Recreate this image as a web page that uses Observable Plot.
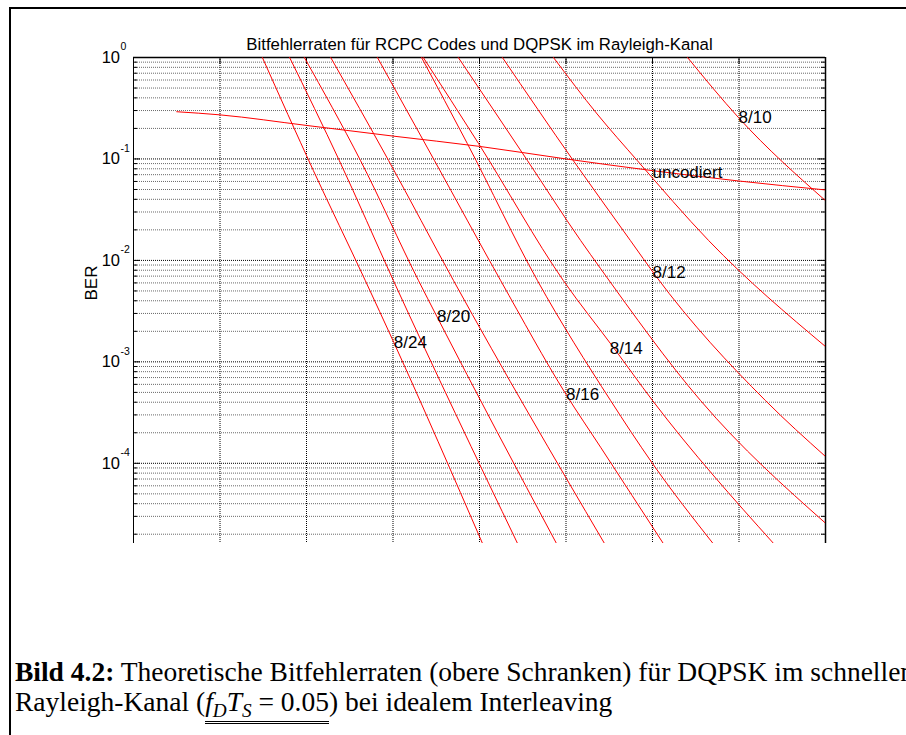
<!DOCTYPE html>
<html><head><meta charset="utf-8">
<script src="https://cdn.jsdelivr.net/npm/d3@7"></script>
<script src="https://cdn.jsdelivr.net/npm/@observablehq/plot@0.6"></script>
<style>
html,body{margin:0;padding:0;overflow:hidden;background:#fff;width:906px;height:735px}
#frame{position:absolute;left:9px;top:7px;width:1400px;height:1400px;border-left:2.6px solid #000;border-top:2.6px solid #000;z-index:2;pointer-events:none}
#chart{position:absolute;left:0;top:0}
#cap{position:absolute;left:15px;top:657px;font-family:"Liberation Serif","Times New Roman",serif;font-size:27.5px;line-height:30px;white-space:nowrap;color:#000}
#cap .u{display:inline-block;line-height:27px;border-bottom:3px double #000;padding-bottom:3px}
#cap .s{font-size:0.7em;position:relative;top:0.3em}
</style></head><body>
<div id="frame"></div>
<div id="chart"></div>
<div id="cap"><b>Bild 4.2:</b> Theoretische Bitfehlerraten (obere Schranken) für DQPSK im schnellen<br>Rayleigh-Kanal (<span class="u"><i>f</i><span class="s"><i>D</i></span><i>T</i><span class="s"><i>S</i></span> = 0.05</span>) bei idealem Interleaving</div>
<script>
// ---- axis structure ----
const xDomain = [0, 16];
const yDomain = [1.62e-5, 1];
const xGrid = [0, 2, 4, 6, 8, 10, 12, 14, 16];
const decades = [1, 0.1, 0.01, 0.001, 0.0001];
const decadeExp = ["0", "-1", "-2", "-3", "-4"];
const minorMult = [2, 3, 4, 5, 6, 7, 8, 9];
const title = "Bitfehlerraten für RCPC Codes und DQPSK im Rayleigh-Kanal";
const yLabel = "BER";

// ---- series (Eb/N0 in dB, BER) ----
const ebn0_uncoded = [1, 2, 4, 6, 8, 10, 12, 14, 16];
const ber_uncoded  = [0.292, 0.272, 0.214, 0.168, 0.133, 0.1, 0.0767, 0.0606, 0.0495];

const ebn0_8_24 = [2.98, 4.16, 5.36, 6.02, 8.07];
const ber_8_24  = [1, 0.0767, 0.00632, 0.00155, 1.62e-5];
const ebn0_8_22 = [3.61, 4.76, 6.01, 8.88];
const ber_8_22  = [1, 0.0962, 0.00632, 1.62e-5];
const ebn0_8_20 = [3.95, 5.25, 6.59, 7.02, 9.78];
const ber_8_20  = [1, 0.0962, 0.00632, 0.00277, 1.62e-5];
const ebn0_8_18 = [4.56, 5.90, 7.40, 10.89];
const ber_8_18  = [1, 0.0962, 0.00632, 1.62e-5];
const ebn0_8_16 = [5.64, 6.96, 8.49, 10.0, 10.80, 12.25];
const ber_8_16  = [1, 0.0962, 0.00632, 0.000478, 0.000144, 1.62e-5];
const ebn0_8_15 = [6.66, 7.72, 9.34, 11.03, 11.99, 13.4];
const ber_8_15  = [1, 0.1415, 0.00632, 0.000416, 0.000101, 1.62e-5];
const ebn0_8_14 = [6.70, 7.98, 9.94, 11.10, 12.0, 14.80];
const ber_8_14  = [1, 0.1415, 0.00632, 0.00138, 0.000416, 1.62e-5];
const ebn0_8_13 = [7.51, 9.11, 10.34, 10.80, 13.11, 16.0];
const ber_8_13  = [1, 0.0962, 0.01567, 0.0083, 0.000416, 2.57e-5];
const ebn0_8_12 = [8.53, 10.17, 11.49, 12.07, 14.61, 16.0];
const ber_8_12  = [1, 0.0962, 0.01567, 0.00708, 0.000416, 0.0001167];
const ebn0_8_11 = [9.71, 10.72, 11.65, 13.30, 16.0];
const ber_8_11  = [1, 0.2775, 0.0962, 0.01567, 0.001415];
const ebn0_8_10 = [12.81, 13.99, 16.0];
const ber_8_10  = [1, 0.2553, 0.0388];

const coded = [
  ["8/24", ebn0_8_24, ber_8_24], ["8/22", ebn0_8_22, ber_8_22],
  ["8/20", ebn0_8_20, ber_8_20], ["8/18", ebn0_8_18, ber_8_18],
  ["8/16", ebn0_8_16, ber_8_16], ["8/15", ebn0_8_15, ber_8_15],
  ["8/14", ebn0_8_14, ber_8_14], ["8/13", ebn0_8_13, ber_8_13],
  ["8/12", ebn0_8_12, ber_8_12], ["8/11", ebn0_8_11, ber_8_11],
  ["8/10", ebn0_8_10, ber_8_10]
];

// ---- curve labels ----
const labelText = ["8/10", "uncodiert", "8/12", "8/14", "8/16", "8/20", "8/24"];
const labelX    = [13.99, 12.0, 12.0, 11.01, 10.0, 7.02, 6.02];
const labelY    = [0.255, 0.074, 0.0076, 0.00136, 0.000478, 0.00277, 0.00155];

// ---- build tables ----
const rows = [];
for (const [rate, xs, ys] of coded) xs.forEach((x, i) => rows.push({rate, x, y: ys[i]}));
const unc = ebn0_uncoded.map((x, i) => ({x, y: ber_uncoded[i]}));
const labels = labelText.map((t, i) => ({t, x: labelX[i], y: labelY[i]}));
const minor = [];
for (const d of decades.concat([1e-5])) for (const k of minorMult) { const v = k * d; if (v >= yDomain[0] && v < 1) minor.push(v); }
const decTicks = decades.map((v, i) => ({v, e: decadeExp[i]}));

const W = 906, H = 543, mL = 133, mR = 81, mT = 57, mB = 0;
const pw = W - mL - mR, ph = H - mT - mB;
const sans = "Liberation Sans, Arial, Helvetica, sans-serif";

const chart = Plot.plot({
  width: W, height: H,
  marginLeft: mL, marginRight: mR, marginTop: mT, marginBottom: mB,
  style: {background: "none", fontFamily: sans, overflow: "visible"},
  x: {domain: xDomain, axis: null},
  y: {type: "log", domain: yDomain, axis: null},
  marks: [
    Plot.ruleY(minor, {stroke: "#6a6a6a", strokeWidth: 1, strokeDasharray: "1,1"}),
    Plot.ruleY(decades.slice(1), {stroke: "#000", strokeWidth: 1, strokeDasharray: "1,1"}),
    Plot.ruleX(xGrid.slice(1, -1), {stroke: "#000", strokeWidth: 1, strokeDasharray: "1,1"}),
    // frame (bottom is cut off in the reference)
    Plot.ruleX([xDomain[0]], {stroke: "#000", strokeWidth: 1}),
    Plot.ruleX([xDomain[1]], {stroke: "#000", strokeWidth: 1.5}),
    Plot.ruleY([yDomain[1]], {stroke: "#000", strokeWidth: 1.5}),
    // inward ticks
    Plot.ruleY(decades, {stroke: "#000", insetRight: pw - 7}),
    Plot.ruleY(minor, {stroke: "#000", insetRight: pw - 4}),
    Plot.ruleY(decades, {stroke: "#000", insetLeft: pw - 7}),
    Plot.ruleY(minor, {stroke: "#000", insetLeft: pw - 4}),
    Plot.ruleX(xGrid, {stroke: "#000", insetBottom: ph - 7}),
    // curves
    Plot.line(rows, {x: "x", y: "y", z: "rate", stroke: "#ff0000", strokeWidth: 1, curve: "monotone-x", clip: true}),
    Plot.line(unc, {x: "x", y: "y", stroke: "#ff0000", strokeWidth: 1, curve: "monotone-x", clip: true}),
    // labels
    Plot.text(labels, {x: "x", y: "y", text: "t", textAnchor: "start", fontSize: 17, fill: "#000"}),
    // y tick labels 10^n
    Plot.text(decTicks, {y: "v", text: () => "10", frameAnchor: "left", textAnchor: "end", dx: -13.5, fontSize: 16.5, fill: "#000"}),
    Plot.text(decTicks, {y: "v", text: "e", frameAnchor: "left", textAnchor: "start", dx: -13, dy: -10.5, fontSize: 10.5, fill: "#000"}),
    // y label and title
    Plot.text([yLabel], {frameAnchor: "left", dx: -41.5, rotate: -90, fontSize: 17, fill: "#000"}),
    Plot.text([title], {frameAnchor: "top", dy: -19.7, fontSize: 16.8, fill: "#000"})
  ]
});
document.getElementById("chart").appendChild(chart);
</script>
</body></html>
